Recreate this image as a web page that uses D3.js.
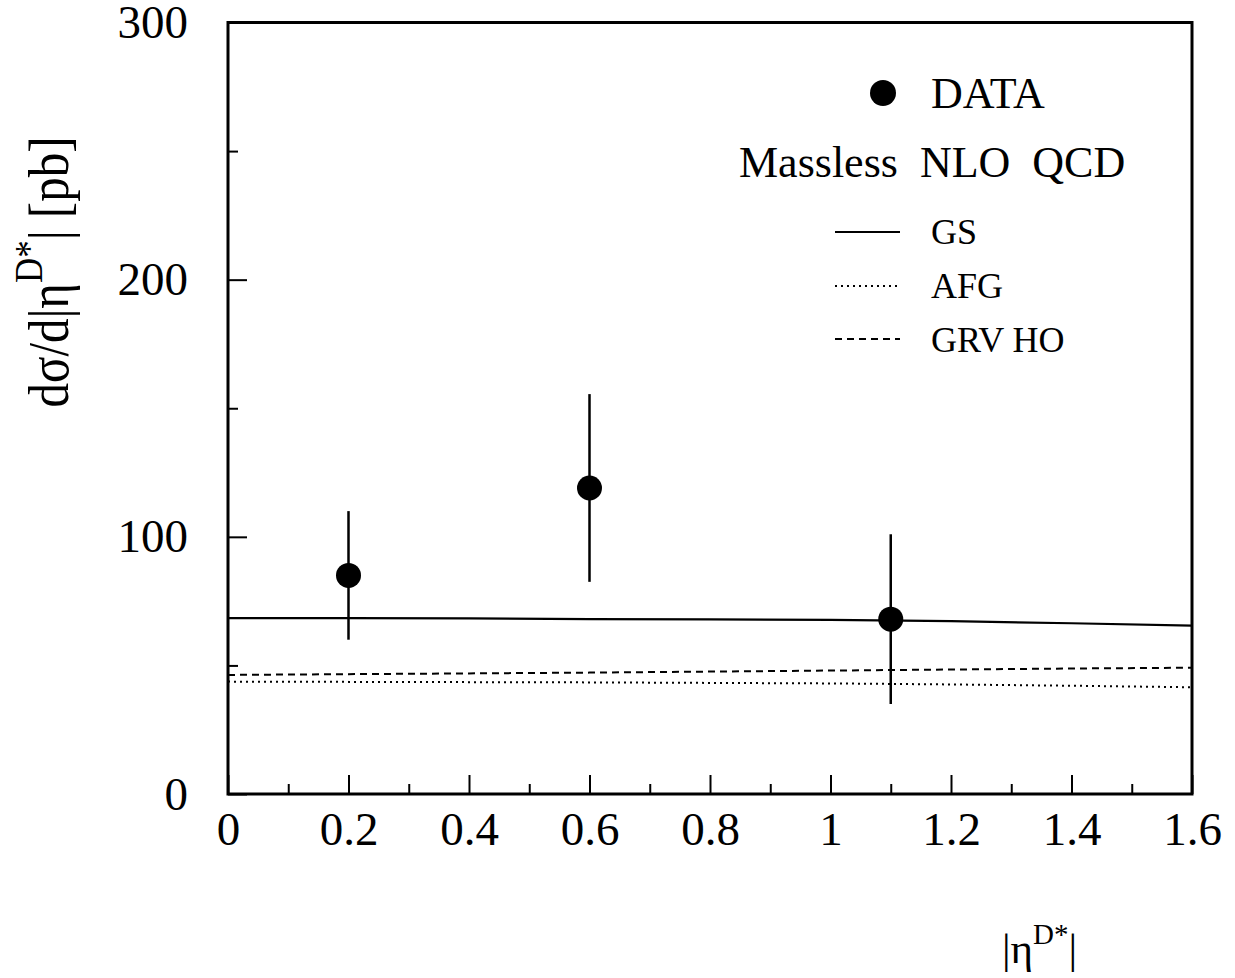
<!DOCTYPE html>
<html>
<head>
<meta charset="utf-8">
<script src="https://cdn.jsdelivr.net/npm/d3@7"></script>
<style>
  body { margin: 0; background: #fff; }
  svg { display: block; }
  text { font-family: "Liberation Serif", "Times New Roman", serif; fill: #000; }
</style>
</head>
<body>
<svg id="chart" width="1235" height="978"></svg>
<script>
// measured points (|eta| bin centres, cross section, error)
var dataEta  = [0.2, 0.6, 1.1];
var dataXsec = [85, 119, 68];
var dataErr  = [25, 36.5, 33];

// NLO curves
var curveEta = [0, 0.2, 0.4, 0.6, 0.8, 1.0, 1.2, 1.4, 1.6];
var gsXsec   = [68.4, 68.4, 68.3, 68.0, 67.9, 67.7, 67.2, 66.4, 65.5];
var afgXsec  = [43.7, 43.6, 43.5, 43.4, 43.2, 43.0, 42.6, 42.1, 41.5];
var grvXsec  = [46.3, 46.6, 46.9, 47.2, 47.6, 48.0, 48.4, 48.8, 49.1];

var xMajor = [0, 0.2, 0.4, 0.6, 0.8, 1.0, 1.2, 1.4, 1.6];
var xMinor = [0.1, 0.3, 0.5, 0.7, 0.9, 1.1, 1.3, 1.5];
var yMajor = [0, 100, 200, 300];
var yMinor = [50, 150, 250];

// "top" is a read-only window global, so use other names
var plotL = 228, plotR = 1192, plotT = 22.5, plotB = 794;

var svg = d3.select("#chart");

var x = d3.scaleLinear().domain([0, 1.6]).range([plotL, plotR]);
var y = d3.scaleLinear().domain([0, 300]).range([plotB, plotT]);

function styleAxis(g) {
  g.select(".domain").remove();
  g.selectAll(".tick line").attr("stroke", "#000").attr("stroke-width", 2);
  g.selectAll(".tick text").attr("font-size", 47).attr("font-family", "Liberation Serif, serif");
}

// x axis
svg.append("g")
  .attr("transform", "translate(0," + plotB + ")")
  .call(d3.axisBottom(x).tickValues(xMajor).tickSize(-19).tickPadding(18)
    .tickFormat(function (d) { return String(+d.toFixed(1)); }))
  .call(styleAxis);

svg.append("g")
  .attr("transform", "translate(0," + plotB + ")")
  .call(d3.axisBottom(x).tickValues(xMinor).tickSize(-10).tickFormat(""))
  .call(styleAxis);

// y axis
svg.append("g")
  .attr("transform", "translate(" + plotL + ",0)")
  .call(d3.axisLeft(y).tickValues(yMajor).tickSize(-19).tickPadding(40))
  .call(styleAxis);

svg.append("g")
  .attr("transform", "translate(" + plotL + ",0)")
  .call(d3.axisLeft(y).tickValues(yMinor).tickSize(-10).tickFormat(""))
  .call(styleAxis);

// frame
svg.append("rect")
  .attr("x", plotL).attr("y", plotT)
  .attr("width", plotR - plotL).attr("height", plotB - plotT)
  .attr("fill", "none").attr("stroke", "#000").attr("stroke-width", 3);

// curves
var line = d3.line()
  .x(function (d) { return x(d[0]); })
  .y(function (d) { return y(d[1]); });

var curves = [
  { vals: gsXsec, dash: null, width: 2.2 },
  { vals: afgXsec, dash: "2,4", width: 2 },
  { vals: grvXsec, dash: "7,5", width: 2 }
];

svg.selectAll("path.curve")
  .data(curves)
  .enter()
  .append("path")
  .attr("class", "curve")
  .attr("fill", "none")
  .attr("stroke", "#000")
  .attr("stroke-width", function (d) { return d.width; })
  .attr("stroke-dasharray", function (d) { return d.dash; })
  .attr("d", function (d) { return line(curveEta.map(function (e, i) { return [e, d.vals[i]]; })); });

// data points with error bars
var points = dataEta.map(function (e, i) { return { eta: e, val: dataXsec[i], err: dataErr[i] }; });

svg.selectAll("line.err")
  .data(points)
  .enter()
  .append("line")
  .attr("class", "err")
  .attr("x1", function (d) { return x(d.eta); })
  .attr("x2", function (d) { return x(d.eta); })
  .attr("y1", function (d) { return y(d.val - d.err); })
  .attr("y2", function (d) { return y(d.val + d.err); })
  .attr("stroke", "#000")
  .attr("stroke-width", 2.5);

svg.selectAll("circle.pt")
  .data(points)
  .enter()
  .append("circle")
  .attr("class", "pt")
  .attr("cx", function (d) { return x(d.eta); })
  .attr("cy", function (d) { return y(d.val); })
  .attr("r", 12.5)
  .attr("fill", "#000");

// legend
svg.append("circle").attr("cx", 883).attr("cy", 93).attr("r", 13).attr("fill", "#000");
svg.append("text").attr("x", 931).attr("y", 108).attr("font-size", 44).text("DATA");
svg.append("text").attr("x", 739).attr("y", 177).attr("font-size", 44)
  .style("white-space", "pre").text("Massless  NLO  QCD");

var legendRows = [
  { label: "GS", dash: null, y: 232, base: 244 },
  { label: "AFG", dash: "2,4", y: 286, base: 298 },
  { label: "GRV HO", dash: "7,5", y: 339, base: 352 }
];
legendRows.forEach(function (r) {
  svg.append("line")
    .attr("x1", 835).attr("x2", 900).attr("y1", r.y).attr("y2", r.y)
    .attr("stroke", "#000").attr("stroke-width", 2)
    .attr("stroke-dasharray", r.dash);
  svg.append("text").attr("x", 931).attr("y", r.base).attr("font-size", 36).text(r.label);
});

// y title
var yt = svg.append("text")
  .attr("transform", "translate(68,272) rotate(-90)")
  .attr("text-anchor", "middle")
  .attr("font-size", 56)
  .attr("textLength", 271)
  .attr("lengthAdjust", "spacingAndGlyphs");
yt.append("tspan").text("dσ/d|η");
yt.append("tspan").attr("font-size", 40).attr("dy", -26).text("D*");
yt.append("tspan").attr("dy", 26).style("white-space", "pre").text("| [pb]");

// x title
var xt = svg.append("text")
  .attr("x", 1002).attr("y", 963)
  .attr("font-size", 43);
xt.append("tspan").text("|η");
xt.append("tspan").attr("font-size", 29).attr("dy", -19).text("D*");
xt.append("tspan").attr("dy", 19).text("|");
</script>
</body>
</html>
